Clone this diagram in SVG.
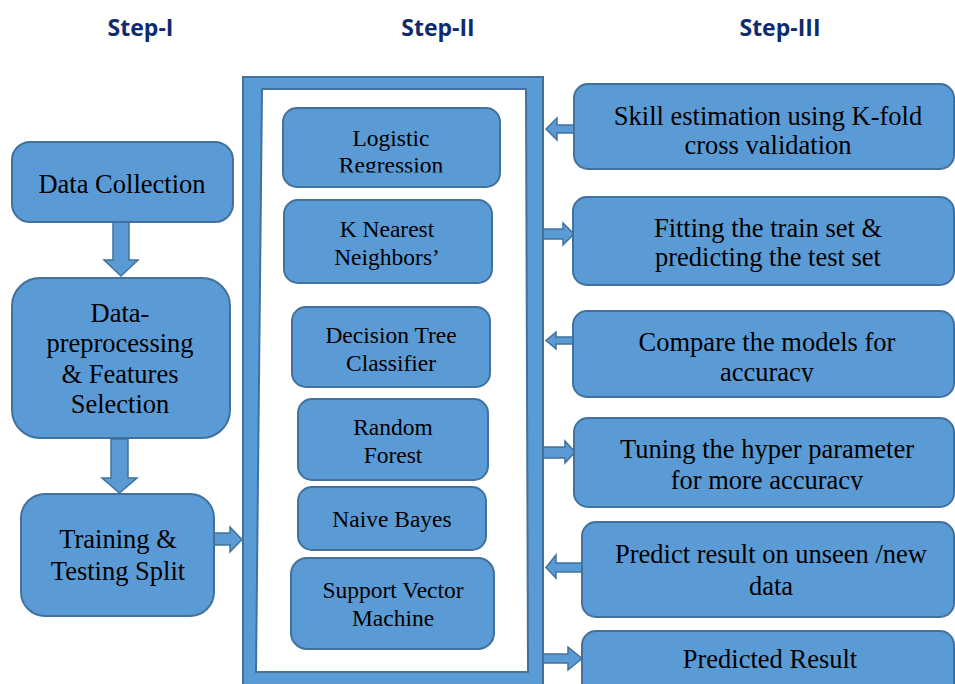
<svg xmlns="http://www.w3.org/2000/svg" width="955" height="684" viewBox="0 0 955 684">
<style>
.box{fill:#5b9bd5;stroke:#41719c;stroke-width:2}
.arrow{fill:#5b9bd5;stroke:#41719c;stroke-width:1.5;stroke-linejoin:miter}
.t{font-family:"Liberation Serif","Times New Roman",serif;fill:#000;text-anchor:middle}
.big{font-size:26.5px}
.mid{font-size:23.5px}
.hdr{font-family:"Open Sans","Liberation Sans",sans-serif;font-weight:bold;font-size:23px;fill:#0f2b6b;text-anchor:middle}
</style>
<defs>
<clipPath id="clipLR"><rect x="280" y="100" width="225" height="72.5"/></clipPath>
<clipPath id="clipCmp"><rect x="570" y="305" width="390" height="77"/></clipPath>
<clipPath id="clipTun"><rect x="570" y="412" width="390" height="78"/></clipPath>
</defs>
<rect width="955" height="684" fill="#fff"/>

<g id="headers">
<text class="hdr" x="140.5" y="36">Step-I</text>
<text class="hdr" x="438" y="36">Step-II</text>
<text class="hdr" x="780" y="36">Step-III</text>
</g>

<g id="connectors">
<polygon class="arrow" points="113,222 129,222 129,260 138,260 121,276 104,260 113,260"/>
<polygon class="arrow" points="111,439 128,439 128,478 137,478 119.5,493 102,478 111,478"/>
<polygon class="arrow" points="212,533 230,533 230,527 242,539.5 230,552 230,545 212,545"/>
<polygon class="arrow" points="575,125 557,125 557,118 546,129 557,140 557,133 575,133"/>
<polygon class="arrow" points="543,229 563,229 563,223 574,234 563,245 563,239 543,239"/>
<polygon class="arrow" points="574,337 556,337 556,332 546,340.5 556,349 556,344 574,344"/>
<polygon class="arrow" points="543,447 565,447 565,441 575,452 565,463 565,458 543,458"/>
<polygon class="arrow" points="583,563 556,563 556,555 546,567.5 556,578 556,572 583,572"/>
<polygon class="arrow" points="543,654 568,654 568,647 582,658.5 568,670 568,663 543,663"/>
</g>

<g id="frame">
<rect class="box" x="243" y="77" width="300" height="630"/>
<polygon points="262,89 526,89 528,672 256,672" fill="#fff" stroke="#41719c" stroke-width="2"/>
</g>

<g id="data-collection">
<rect class="box" x="12" y="142" width="221" height="80" rx="18"/>
<text class="t big" x="122" y="193">Data Collection</text>
</g>
<g id="preprocessing">
<rect class="box" x="12" y="278" width="218" height="160" rx="28"/>
<text class="t big" x="120" y="322">Data-</text>
<text class="t big" x="120" y="352">preprocessing</text>
<text class="t big" x="120" y="383">&amp; Features</text>
<text class="t big" x="120" y="413">Selection</text>
</g>
<g id="train-test-split">
<rect class="box" x="21" y="494" width="193" height="122" rx="24"/>
<text class="t big" x="118" y="548">Training &amp;</text>
<text class="t big" x="118" y="580">Testing Split</text>
</g>

<g id="logistic-regression">
<rect class="box" x="283" y="108" width="217" height="79" rx="14"/>
<g clip-path="url(#clipLR)">
<text class="t mid" x="391" y="146">Logistic</text>
<text class="t mid" x="391" y="173">Regression</text>
</g>
</g>
<g id="knn">
<rect class="box" x="284" y="200" width="208" height="83" rx="14"/>
<text class="t mid" x="387" y="237">K Nearest</text>
<text class="t mid" x="387" y="265">Neighbors’</text>
</g>
<g id="decision-tree">
<rect class="box" x="292" y="307" width="198" height="80" rx="14"/>
<text class="t mid" x="391" y="343">Decision Tree</text>
<text class="t mid" x="391" y="371">Classifier</text>
</g>
<g id="random-forest">
<rect class="box" x="298" y="399" width="190" height="81" rx="14"/>
<text class="t mid" x="393" y="435">Random</text>
<text class="t mid" x="393" y="463">Forest</text>
</g>
<g id="naive-bayes">
<rect class="box" x="298" y="487" width="188" height="63" rx="14"/>
<text class="t mid" x="392" y="527">Naive Bayes</text>
</g>
<g id="svm">
<rect class="box" x="291" y="558" width="203" height="91" rx="16"/>
<text class="t mid" x="393" y="598">Support Vector</text>
<text class="t mid" x="393" y="626">Machine</text>
</g>

<g id="skill-estimation">
<rect class="box" x="574" y="84" width="380" height="85" rx="14"/>
<text class="t big" x="768" y="125">Skill estimation using K-fold</text>
<text class="t big" x="768" y="154">cross validation</text>
</g>
<g id="fitting">
<rect class="box" x="573" y="197" width="381" height="88" rx="14"/>
<text class="t big" x="768" y="237">Fitting the train set &amp;</text>
<text class="t big" x="768" y="266">predicting the test set</text>
</g>
<g id="compare">
<rect class="box" x="573" y="311" width="381" height="86" rx="14"/>
<g clip-path="url(#clipCmp)">
<text class="t big" x="767" y="351">Compare the models for</text>
<text class="t big" x="767" y="381">accuracy</text>
</g>
</g>
<g id="tuning">
<rect class="box" x="574" y="418" width="380" height="89" rx="14"/>
<g clip-path="url(#clipTun)">
<text class="t big" x="767" y="458">Tuning the hyper parameter</text>
<text class="t big" x="767" y="489">for more accuracy</text>
</g>
</g>
<g id="predict-unseen">
<rect class="box" x="582" y="522" width="372" height="95" rx="14"/>
<text class="t big" x="771" y="563">Predict result  on unseen /new</text>
<text class="t big" x="771" y="595">data</text>
</g>
<g id="predicted-result">
<rect class="box" x="582" y="631" width="372" height="80" rx="14"/>
<text class="t big" x="770" y="668">Predicted Result</text>
</g>
</svg>
